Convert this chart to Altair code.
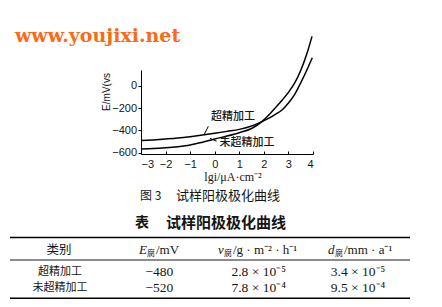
import altair as alt
import pandas as pd

# ---------------- data ----------------
# anodic polarization curves: lg i (uA/cm2) vs E (mV)
lgi_sp = [-3, -2.5, -2, -1.5, -1, -0.5, 0, 0.5, 1, 1.5, 1.92, 2.25, 2.5, 2.75, 3, 3.25, 3.5, 3.75, 3.97]
e_sp = [-490, -484, -476, -467, -455, -441, -425, -408, -390, -360, -321, -285, -252, -215, -155, -80, 25, 140, 250]
lgi_un = [-3, -2.5, -2, -1.5, -1, -0.5, 0, 0.5, 1, 1.5, 1.92, 2, 2.25, 2.5, 2.75, 3, 3.25, 3.5, 3.75, 3.96]
e_un = [-565, -562, -555, -545, -530, -505, -476, -450, -420, -382, -321, -305, -250, -190, -128, -60, 22, 135, 285, 440]

series_names = ["超精加工", "未超精加工"]
label_lgi = [0.74, 1.31]
label_e = [-276, -508]
lead_sp_lgi = [-0.26, -0.42]
lead_sp_e = [-363, -432]
lead_un_lgi = [0.08, -0.19]
lead_un_e = [-496, -470]

x_ticks = [-3, -2, -1, 0, 1, 2, 3, 4]
y_ticks = [-600, -400, -200, 0]

watermark = "www.youjixi.net"
x_title = "lgi/μA·cm⁻²"
y_title = "E/mV(vs"
fig_no = "图 3"
fig_caption = "试样阳极极化曲线"
tab_no = "表"
tab_caption = "试样阳极极化曲线"

head_first = "类别"
head_sym = ["E", "v", "d"]
head_sub = "腐"
head_rest = ["/mV", "/g · m⁻² · h⁻¹", "/mm · a⁻¹"]
row_names = ["超精加工", "未超精加工"]
col_e = ["−480", "−520"]
col_v = ["2.8 × 10⁻⁵", "7.8 × 10⁻⁴"]
col_d = ["3.4 × 10⁻⁵", "9.5 × 10⁻⁴"]

# ---------------- tables ----------------
curve_df = pd.concat([
    pd.DataFrame({"lgi": lgi_sp, "E": e_sp, "series": series_names[0]}),
    pd.DataFrame({"lgi": lgi_un, "E": e_un, "series": series_names[1]}),
])
label_df = pd.DataFrame({"lgi": label_lgi, "E": label_e, "name": series_names})
lead_df = pd.concat([
    pd.DataFrame({"lgi": lead_sp_lgi, "E": lead_sp_e, "series": series_names[0]}),
    pd.DataFrame({"lgi": lead_un_lgi, "E": lead_un_e, "series": series_names[1]}),
])
name_df = pd.DataFrame({"row": [0, 1], "col": [0, 0], "t": row_names})
num_df = pd.DataFrame({
    "row": [0, 1] * 3,
    "col": [1, 1, 2, 2, 3, 3],
    "t": [col_e[0], col_e[1], col_v[0], col_v[1], col_d[0], col_d[1]],
})

W, H = 172, 84
OX, OY = 141, 70  # plot origin inside the 442x307 page
INK = "#151515"
CJK = "Noto Sans CJK SC"
SERIF = "Liberation Serif"

xs = alt.Scale(domain=[-3, 4], nice=False, zero=False)
ys = alt.Scale(domain=[-610, 140], nice=False, zero=False)

curves = alt.Chart(curve_df).mark_line(
    color="black", strokeWidth=1.5, interpolate="monotone"
).encode(
    x=alt.X("lgi:Q", scale=xs, axis=alt.Axis(
        orient="bottom", values=x_ticks, ticks=False, tickSize=0, labelPadding=4,
        grid=False, title=None, format="d", labelFont="Liberation Sans",
        labelFontSize=11, labelColor=INK, domainColor="black", domainWidth=1)),
    y=alt.Y("E:Q", scale=ys, axis=alt.Axis(
        orient="left", values=y_ticks, tickSize=3, labelPadding=1.5, grid=False,
        title=None, format="d", labelFont="Liberation Sans", labelFontSize=11,
        labelColor=INK, tickColor="black", domainColor="black", domainWidth=1)),
    detail="series:N",
)

xticks_in = alt.Chart(curve_df).mark_line(opacity=0).encode(
    x=alt.X("lgi:Q", scale=xs, axis=alt.Axis(
        orient="top", offset=-H, values=x_ticks, labels=False, domain=False,
        tickSize=3, tickColor="black", grid=False, title=None)),
    y=alt.Y("E:Q", scale=ys, axis=None),
    detail="series:N",
)

leaders = alt.Chart(lead_df).mark_line(color="black", strokeWidth=1).encode(
    x=alt.X("lgi:Q", scale=xs, axis=None),
    y=alt.Y("E:Q", scale=ys, axis=None),
    detail="series:N",
)

labels = alt.Chart(label_df).mark_text(
    font=CJK, fontSize=11, fontWeight=500, color=INK, align="center", baseline="middle"
).encode(
    x=alt.X("lgi:Q", scale=xs, axis=None),
    y=alt.Y("E:Q", scale=ys, axis=None),
    text="name:N",
)

one = pd.DataFrame({"t": [""]})


def txt(s, x, y, **kw):
    return alt.Chart(pd.DataFrame({"t": [s]})).mark_text(**kw).encode(
        x=alt.value(x - OX), y=alt.value(y - OY), text="t:N")


def rule(x1, x2, y, w):
    return alt.Chart(one).mark_rule(color="black", strokeWidth=w).encode(
        x=alt.value(x1 - OX), x2=alt.value(x2 - OX), y=alt.value(y - OY))


texts = [
    txt(watermark, 15, 36, font="DejaVu Serif", fontSize=19, fontWeight="bold",
        color="#fb6a16", align="left", baseline="middle"),
    txt(y_title, 107, 92, font="Liberation Sans", fontSize=10, color=INK,
        angle=270, align="center", baseline="middle"),
    txt(x_title, 233, 177, font=SERIF, fontSize=12, color=INK,
        align="center", baseline="middle"),
    txt(fig_no, 140, 196, font=CJK, fontSize=12, color=INK, align="left", baseline="middle"),
    txt(fig_caption, 176, 196, font=CJK, fontSize=13, color=INK, align="left", baseline="middle"),
    txt(tab_no, 135, 223, font=CJK, fontSize=14, fontWeight="bold", color=INK,
        align="left", baseline="middle"),
    txt(tab_caption, 166, 223, font=CJK, fontSize=15, fontWeight="bold", color=INK,
        align="left", baseline="middle"),
    txt(head_first, 59, 250, font=CJK, fontSize=12.5, color=INK, align="center", baseline="middle"),
]

head_x = [139, 218, 328]
head_symw = [8, 6, 7]
for i in range(3):
    hx = head_x[i]
    texts.append(txt(head_sym[i], hx, 250, font=SERIF, fontSize=13, fontStyle="italic",
                     color=INK, align="left", baseline="middle"))
    texts.append(txt(head_sub, hx + head_symw[i], 253.5, font=CJK, fontSize=8,
                     color=INK, align="left", baseline="middle"))
    texts.append(txt(head_rest[i], hx + head_symw[i] + 9, 250, font=SERIF, fontSize=13,
                     color=INK, align="left", baseline="middle"))

rules = [
    rule(10, 410, 237.5, 1.6),
    rule(10, 410, 260, 0.9),
    rule(10, 410, 298.3, 1.6),
]

col_scale = alt.Scale(domain=[0, 1, 2, 3], range=[60 - OX, 358 - OX], padding=0)
row_scale = alt.Scale(domain=[0, 1], range=[272.2 - OY, 288.2 - OY], padding=0)

names = alt.Chart(name_df).mark_text(
    font=CJK, fontSize=11, color=INK, align="center", baseline="middle"
).encode(
    x=alt.X("col:O", scale=col_scale, axis=None),
    y=alt.Y("row:O", scale=row_scale, axis=None),
    text="t:N",
)
nums = alt.Chart(num_df).mark_text(
    font=SERIF, fontSize=13.5, color=INK, align="center", baseline="middle"
).encode(
    x=alt.X("col:O", scale=col_scale, axis=None),
    y=alt.Y("row:O", scale=row_scale, axis=None),
    text="t:N",
)

chart = alt.layer(
    curves, xticks_in, leaders, labels, *texts, *rules, names, nums
).resolve_scale(
    x="independent", y="independent"
).properties(
    width=W, height=H, autosize="none",
    padding={"left": OX, "top": OY, "right": 442 - OX - W, "bottom": 307 - OY - H},
    background="white",
).configure_view(strokeWidth=0)

chart.save("out.html", embed_options={"renderer": "svg", "actions": False})
